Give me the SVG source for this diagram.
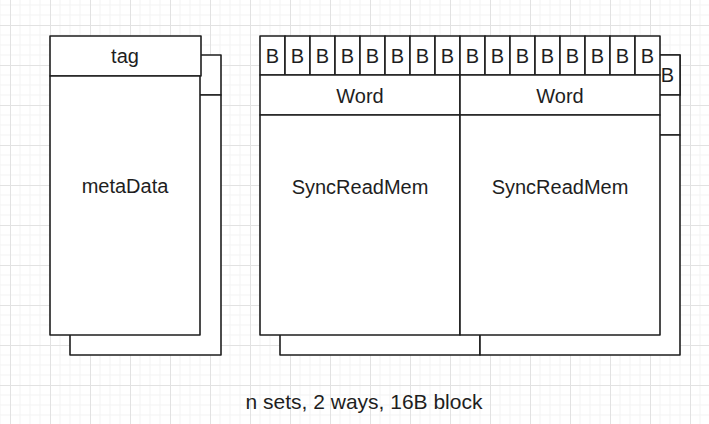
<svg xmlns="http://www.w3.org/2000/svg" width="709" height="424" viewBox="0 0 709 424">
<defs>
<pattern id="grid" patternUnits="userSpaceOnUse" x="10" y="25" width="40" height="40">
<path d="M10 0V40M20 0V40M30 0V40M0 10H40M0 20H40M0 30H40" stroke="#f3f3f3" stroke-width="1" fill="none"/>
<path d="M0.5 0V40M0 0.5H40" stroke="#e2e2e2" stroke-width="1" fill="none"/>
</pattern>
<style>
.b{fill:#fff;stroke:#1e1e1e;stroke-width:1.6;stroke-linejoin:round}
.t{font-family:"Liberation Sans",Arial,sans-serif;font-size:20px;fill:#1e1e1e;text-anchor:middle;dominant-baseline:central}
</style>
</defs>
<rect width="709" height="424" fill="#fff"/>
<rect width="709" height="424" fill="url(#grid)"/>

<g id="meta-back">
<rect class="b" x="70" y="55" width="151" height="40"/>
<rect class="b" x="70" y="95" width="151" height="260"/>
</g>
<g id="ways-back">
<rect class="b" x="280" y="55" width="400" height="40"/>
<rect class="b" x="655" y="55" width="25" height="40"/>
<text class="t" x="667.5" y="75">B</text>
<rect class="b" x="280" y="95" width="200" height="40"/>
<rect class="b" x="480" y="95" width="200" height="40"/>
<rect class="b" x="280" y="135" width="200" height="220"/>
<rect class="b" x="480" y="135" width="200" height="220"/>
</g>

<g id="meta-front">
<rect class="b" x="50" y="36" width="151" height="40"/>
<text class="t" x="125" y="56">tag</text>
<rect class="b" x="50" y="76" width="150" height="259"/>
<text class="t" x="125" y="186">metaData</text>
</g>

<g id="way1">
<g id="way1-bytes">
<rect class="b" x="260" y="36" width="25" height="39"/><text class="t" x="272.5" y="56">B</text>
<rect class="b" x="285" y="36" width="25" height="39"/><text class="t" x="297.5" y="56">B</text>
<rect class="b" x="310" y="36" width="25" height="39"/><text class="t" x="322.5" y="56">B</text>
<rect class="b" x="335" y="36" width="25" height="39"/><text class="t" x="347.5" y="56">B</text>
<rect class="b" x="360" y="36" width="25" height="39"/><text class="t" x="372.5" y="56">B</text>
<rect class="b" x="385" y="36" width="25" height="39"/><text class="t" x="397.5" y="56">B</text>
<rect class="b" x="410" y="36" width="25" height="39"/><text class="t" x="422.5" y="56">B</text>
<rect class="b" x="435" y="36" width="25" height="39"/><text class="t" x="447.5" y="56">B</text>
</g>
<rect class="b" x="260" y="75" width="200" height="40"/>
<text class="t" x="360" y="96">Word</text>
<rect class="b" x="260" y="115" width="200" height="220"/>
<text class="t" x="360" y="187">SyncReadMem</text>
</g>

<g id="way2">
<g id="way2-bytes">
<rect class="b" x="460" y="36" width="25" height="39"/><text class="t" x="472.5" y="56">B</text>
<rect class="b" x="485" y="36" width="25" height="39"/><text class="t" x="497.5" y="56">B</text>
<rect class="b" x="510" y="36" width="25" height="39"/><text class="t" x="522.5" y="56">B</text>
<rect class="b" x="535" y="36" width="25" height="39"/><text class="t" x="547.5" y="56">B</text>
<rect class="b" x="560" y="36" width="25" height="39"/><text class="t" x="572.5" y="56">B</text>
<rect class="b" x="585" y="36" width="25" height="39"/><text class="t" x="597.5" y="56">B</text>
<rect class="b" x="610" y="36" width="25" height="39"/><text class="t" x="622.5" y="56">B</text>
<rect class="b" x="635" y="36" width="25" height="39"/><text class="t" x="647.5" y="56">B</text>
</g>
<rect class="b" x="460" y="75" width="200" height="40"/>
<text class="t" x="560" y="96">Word</text>
<rect class="b" x="460" y="115" width="200" height="220"/>
<text class="t" x="560" y="187">SyncReadMem</text>
</g>

<g id="connectors"></g>

<g id="caption">
<text class="t" x="364" y="401" font-size="21" style="font-size:21px">n sets, 2 ways, 16B block</text>
</g>
</svg>
